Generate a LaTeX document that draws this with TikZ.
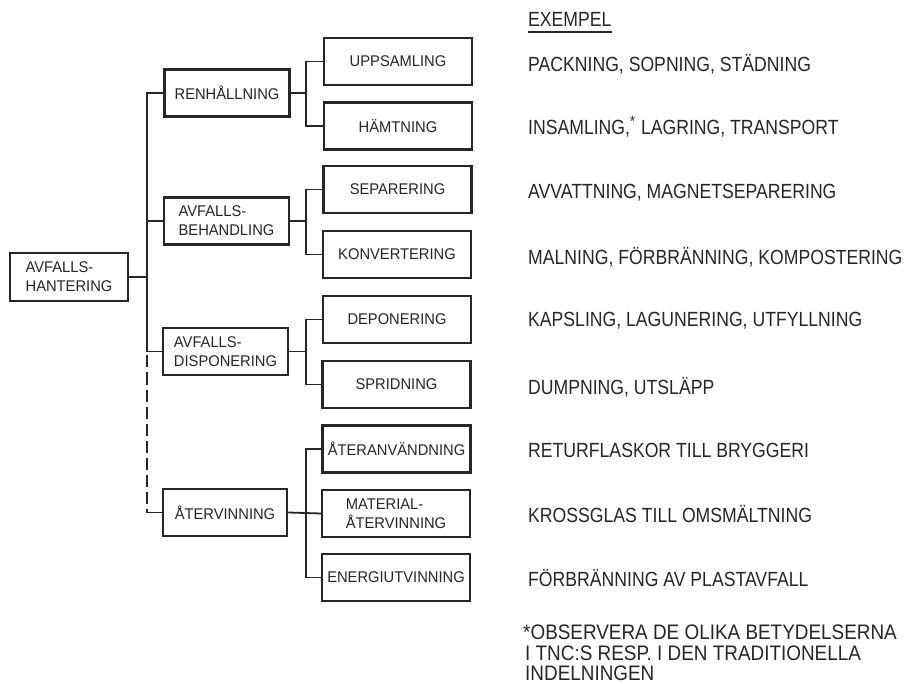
\documentclass[tikz,border=0pt]{standalone}
\usepackage{fontspec}
\setmainfont{Liberation Sans}
\newfontfamily\boxfont[FakeStretch=0.95]{Liberation Sans}
\newfontfamily\exfont[FakeStretch=0.86]{Liberation Sans}
\newfontfamily\notefont[FakeStretch=0.9]{Liberation Sans}
\usetikzlibrary{calc}
\definecolor{ink}{HTML}{262626}
\begin{document}
\begin{tikzpicture}[x=1pt,y=-1pt,
  lbox/.style={draw=ink, line width=2.2pt, text=ink, align=left, inner sep=0pt,
    font=\boxfont\fontsize{15.5}{19}\selectfont},
  lvone/.style={lbox, minimum width=125pt, minimum height=47pt},
  lvtwo/.style={lbox, minimum width=148pt, minimum height=47pt},
  conn/.style={draw=ink, line width=1.8pt},
  dashconn/.style={conn, dash pattern=on 12pt off 5pt},
  extext/.style={anchor=base west, inner sep=0pt, text=ink,
    font=\exfont\fontsize{20.5}{24}\selectfont},
  notetext/.style={anchor=base west, inner sep=0pt, text=ink,
    font=\notefont\fontsize{21}{21.5}\selectfont}
]
\useasboundingbox[fill=white] (0,0) rectangle (910,684);

% boxes
\node[lbox, minimum width=118pt, minimum height=48pt] (root) at (69,277) {AVFALLS-\\HANTERING};
\node[lvone] (ren) at (227,93) {RENHÅLLNING};
\node[lvone] (beh) at (226.5,221) {AVFALLS-\\BEHANDLING};
\node[lvone] (dis) at (225.5,351.5) {AVFALLS-\\DISPONERING};
\node[lvone, minimum width=124pt] (ater) at (225,512.5) {ÅTERVINNING};

\node[lvtwo] (upp) at (398,61.5) {UPPSAMLING};
\node[lvtwo] (ham) at (398,126) {HÄMTNING};
\node[lvtwo] (sep) at (397.5,189.5) {SEPARERING};
\node[lvtwo] (kon) at (397,254.5) {KONVERTERING};
\node[lvtwo] (dep) at (397,319.5) {DEPONERING};
\node[lvtwo] (spr) at (396.5,384.5) {SPRIDNING};
\node[lvtwo] (atan) at (396.5,449) {ÅTERANVÄNDNING};
\node[lvtwo] (mat) at (396,513.5) {MATERIAL-\\ÅTERVINNING};
\node[lvtwo] (ene) at (396,577.5) {ENERGIUTVINNING};

% connectors, first level
\coordinate (tx) at (147,0);
\draw[conn] (root.east) -- (root.east -| tx);
\draw[conn] (ren.west) -- (ren.west -| tx) -- (dis.west -| tx) -- (dis.west);
\draw[conn] (beh.west) -- (beh.west -| tx);
\draw[dashconn] ([yshift=-4pt]dis.west -| tx) -- ([yshift=2pt]ater.west -| tx);
\draw[conn] ([yshift=2pt]ater.west -| tx) -- (ater.west -| tx) -- (ater.west);

% connectors, second level
\coordinate (jx) at (306,0);
\draw[conn] (ren.east) -- (ren.east -| jx);
\draw[conn] (upp.west) -- (upp.west -| jx) -- (ham.west -| jx) -- (ham.west);
\draw[conn] (beh.east) -- (beh.east -| jx);
\draw[conn] (sep.west) -- (sep.west -| jx) -- (kon.west -| jx) -- (kon.west);
\draw[conn] (dis.east) -- (dis.east -| jx);
\draw[conn] (dep.west) -- (dep.west -| jx) -- (spr.west -| jx) -- (spr.west);
\draw[conn] (ater.east) -- (mat.west);
\draw[conn] (atan.west) -- (atan.west -| jx) -- (ene.west -| jx) -- (ene.west);

% examples column
\node[extext] (ex) at (528,27) {EXEMPEL};
\draw[ink, line width=1.3pt] ([yshift=-5pt]ex.base west) -- ([yshift=-5pt]ex.base east);
\node[extext] (e1) at (528,71.5) {PACKNING, SOPNING, STÄDNING};
\node[extext] (e2) at (528,135) {INSAMLING,\raisebox{0.4em}{\fontsize{15}{15}\selectfont *}\kern0.05em{} LAGRING, TRANSPORT};
\node[extext] (e3) at (528,199) {AVVATTNING, MAGNETSEPARERING};
\node[extext] (e4) at (528,265) {MALNING, FÖRBRÄNNING, KOMPOSTERING};
\node[extext] (e5) at (528,327) {KAPSLING, LAGUNERING, UTFYLLNING};
\node[extext] (e6) at (528,395) {DUMPNING, UTSLÄPP};
\node[extext] (e7) at (528,457) {RETURFLASKOR TILL BRYGGERI};
\node[extext] (e8) at (528,522) {KROSSGLAS TILL OMSMÄLTNING};
\node[extext] (e9) at (528,586) {FÖRBRÄNNING AV PLASTAVFALL};

\node[notetext] (n1) at (523,639) {*OBSERVERA DE OLIKA BETYDELSERNA};
\node[notetext] (n2) at (525,660) {I TNC:S RESP. I DEN TRADITIONELLA};
\node[notetext] (n3) at (525,680) {INDELNINGEN};
\end{tikzpicture}
\end{document}
